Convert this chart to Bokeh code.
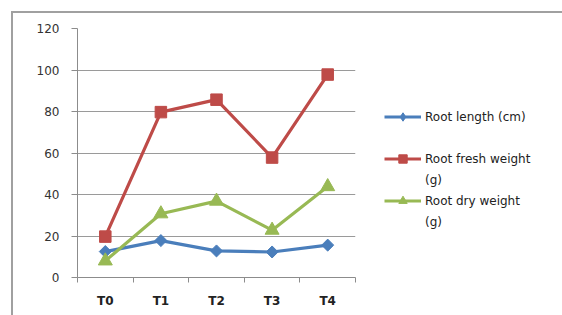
import math
from bokeh.plotting import figure
from bokeh.layouts import row
from bokeh.models import Range1d, FixedTicker, Legend, LegendItem, ColumnDataSource, InlineStyleSheet
from bokeh.embed import file_html
from bokeh.resources import INLINE

categories = ["T0", "T1", "T2", "T3", "T4"]
root_length = [12.5, 17.8, 12.8, 12.3, 15.6]
root_fresh = [19.7, 79.7, 85.7, 57.8, 97.8]
root_dry = [8.0, 30.7, 36.8, 22.8, 43.8]
y_ticks = [0, 20, 40, 60, 80, 100, 120]
legend_names = ["Root length (cm)", "Root fresh weight", "Root dry weight"]
legend_units = ["", "(g)", "(g)"]

FONT = "DejaVu Sans"
BORDER = "#a0a0a0"
H = 310
xs = [i + 0.5 for i in range(len(categories))]
src = ColumnDataSource(dict(x=xs, a=root_length, b=root_fresh, c=root_dry))

p = figure(width=357, height=H, output_backend="svg", toolbar_location=None,
           x_range=Range1d(0, len(categories)), y_range=Range1d(0, 120),
           min_border_left=77, min_border_right=2, min_border_top=28, min_border_bottom=33)
p.outline_line_color = None
p.background_fill_color = "white"
p.border_fill_color = "white"
p.stylesheets = [InlineStyleSheet(css=f"""
:host {{ position: relative; }}
:host::after {{ content: ""; position: absolute; left: 11px; top: 11px; width: 400px; height: 500px;
  border-left: 2px solid {BORDER}; border-top: 2px solid {BORDER}; pointer-events: none; z-index: 10; }}
""")]

# axes
xa = p.xaxis[0]
xa.ticker = FixedTicker(ticks=xs, minor_ticks=list(range(len(categories) + 1)))
xa.major_label_overrides = {x: c for x, c in zip(xs, categories)}
xa.major_tick_out = 0
xa.major_tick_in = 0
xa.minor_tick_out = 5
xa.minor_tick_in = 0
xa.minor_tick_line_color = "#8c8c8c"
xa.axis_line_color = "#8c8c8c"
xa.major_label_text_font = FONT
xa.major_label_text_font_style = "bold"
xa.major_label_text_font_size = "12px"
xa.major_label_text_color = "#222222"
xa.major_label_standoff = 11

ya = p.yaxis[0]
ya.ticker = FixedTicker(ticks=y_ticks)
ya.major_tick_out = 6
ya.major_tick_in = 0
ya.minor_tick_line_color = None
ya.major_tick_line_color = "#8c8c8c"
ya.axis_line_color = "#8c8c8c"
ya.major_label_text_font = FONT
ya.major_label_text_font_size = "12px"
ya.major_label_text_color = "#333333"
ya.major_label_standoff = 12

p.xgrid.grid_line_color = None
p.ygrid.grid_line_color = "#9a9a9a"
p.ygrid.grid_line_width = 1

colors = ["#4a7ebb", "#be4b48", "#98b954"]
markers = ["square", "square", "triangle"]
angles = [math.pi / 4, 0, 0]
sizes = [8.5, 11.5, 14]
for col, c, mk, ang, sz in zip(["a", "b", "c"], colors, markers, angles, sizes):
    p.line("x", col, source=src, line_color=c, line_width=3.2)
    p.scatter("x", col, source=src, marker=mk, angle=ang, size=sz, fill_color=c, line_color=c)

# legend panel (separate canvas to the right of the plot area)
q = figure(width=197, height=H, output_backend="svg", toolbar_location=None,
           x_range=Range1d(0, 1), y_range=Range1d(0, 1), x_axis_type=None, y_axis_type=None,
           min_border_left=0, min_border_right=0, min_border_top=0, min_border_bottom=0)
q.outline_line_color = None
q.grid.visible = False
q.background_fill_color = "white"
q.border_fill_color = "white"
q.stylesheets = [InlineStyleSheet(css=f"""
:host {{ position: relative; }}
:host::after {{ content: ""; position: absolute; left: 0px; top: 11px; width: 300px; height: 2px;
  border-top: 2px solid {BORDER}; pointer-events: none; z-index: 10; }}
""")]

nan = float("nan")
legend_markers = ["diamond", "square", "triangle"]
legend_sizes = [12, 11.5, 14]
legend_items = []
for name, unit, c, mk, sz in zip(legend_names, legend_units, colors, legend_markers, legend_sizes):
    lr = q.line(x=[nan], y=[nan], line_color=c, line_width=3)
    sr = q.scatter(x=[nan], y=[nan], marker=mk, size=sz, fill_color=c, line_color=c)
    legend_items.append(LegendItem(label=name, renderers=[lr, sr]))
    legend_items.append(LegendItem(label=unit if unit else " ", renderers=[]))

legend = Legend(items=legend_items, location=(27, 45), padding=0, margin=0, spacing=0,
                glyph_width=37, glyph_height=21, label_height=21, label_standoff=4,
                label_text_font=FONT, label_text_font_size="12px", label_text_color="#222222",
                border_line_color=None, background_fill_alpha=0)
q.add_layout(legend, "center")

layout = row(p, q, spacing=0)
open("out.html", "w").write(file_html(layout, INLINE))
